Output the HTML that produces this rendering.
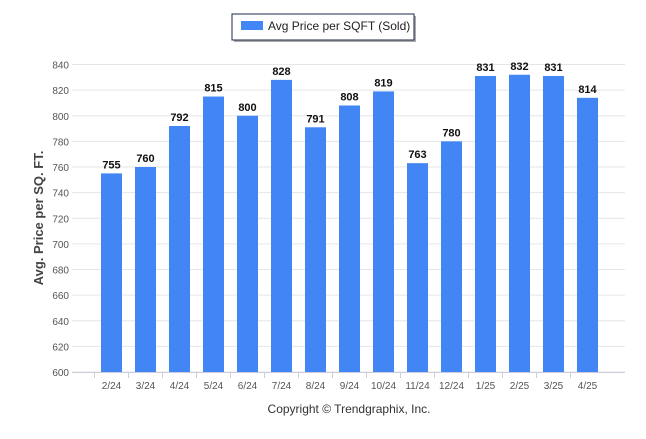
<!DOCTYPE html>
<html><head><meta charset="utf-8"><style>
body{margin:0;background:#fff;font-family:"Liberation Sans",Arial,sans-serif;}
</style></head><body>
<svg width="646" height="434" xmlns="http://www.w3.org/2000/svg">
<g>
<rect x="234" y="16" width="182" height="26" fill="#555" opacity="0.5"/>
<rect x="232" y="14" width="182" height="26" fill="#fff" stroke="#1e2a4a" stroke-width="1"/>
<rect x="241" y="21" width="22" height="9" fill="#4285f4"/>
<text x="268" y="30" font-size="12" fill="#222">Avg Price per SQFT (Sold)</text>
</g>
<g id="grid"></g><g id="bars"></g>
<text transform="translate(43,218) rotate(-90)" text-anchor="middle" font-size="13" font-weight="bold" fill="#444">Avg. Price per SQ. FT.</text>
<text x="349" y="413" text-anchor="middle" font-size="12" fill="#333">Copyright © Trendgraphix, Inc.</text>
</svg>
<script>
const categories=["2/24","3/24","4/24","5/24","6/24","7/24","8/24","9/24","10/24","11/24","12/24","1/25","2/25","3/25","4/25"];
const values=[755,760,792,815,800,828,791,808,819,763,780,831,832,831,814];
const ticks=[600,620,640,660,680,700,720,740,760,780,800,820,840];
const NS="http://www.w3.org/2000/svg";
const y=v=>372-(v-600)*(372-64.5)/240;
const x=i=>111.5+i*34;
const grid=document.getElementById('grid'),bars=document.getElementById('bars');
function mk(t,a,p){const e=document.createElementNS(NS,t);for(const k in a)e.setAttribute(k,a[k]);p.appendChild(e);return e;}
ticks.forEach(v=>{
 const l=mk('line',{x1:72,x2:625,y1:y(v),y2:y(v),stroke:'#e6e6e6','stroke-width':1},grid);
 
 
 const t=mk('text',{x:69,y:y(v)+4,'text-anchor':'end','font-size':10,fill:'#555'},grid);
 t.textContent=v;
 
 
});
mk('line',{x1:72,x2:625,y1:372.5,y2:372.5,stroke:'#ccd',"stroke-width":1},grid);
categories.forEach((c,i)=>{
 const tk=mk('line',{x1:x(i)-17,x2:x(i)-17,y1:373,y2:378,stroke:'#ccd'},grid);
 const r=mk('rect',{x:x(i)-10.5,y:y(values[i]),width:21,height:372-y(values[i]),fill:'#4285f4'},bars);
 
 
 const v=mk('text',{x:x(i),y:y(values[i])-5,'text-anchor':'middle','font-size':11,'font-weight':'bold',fill:'#111'},bars);
 v.textContent=values[i];
 
 
 const t=mk('text',{x:x(i),y:389,'text-anchor':'middle','font-size':10,fill:'#555'},bars);
 t.textContent=c;
 
 
});
</script>
</body></html>
